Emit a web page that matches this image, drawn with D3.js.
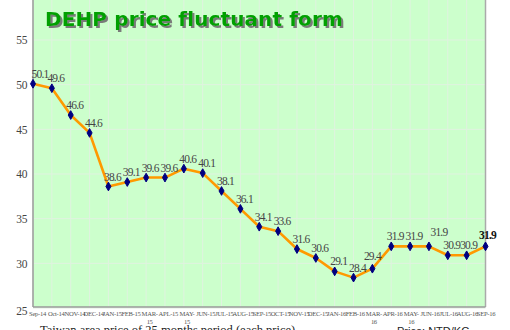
<!DOCTYPE html>
<html><head><meta charset="utf-8">
<script src="https://cdn.jsdelivr.net/npm/d3@7"></script>
<style>
html,body{margin:0;padding:0;background:#fff;overflow:hidden}
svg{display:block}
.serif{font-family:"Liberation Serif","Times New Roman",serif}
</style></head>
<body>
<svg id="chart" width="510" height="330"></svg>
<script>
const months = ["Sep-14","Oct-14","NOV-14","DEC-14","JAN-15","FEB-15","MAR-15","APL-15","MAY-15","JUN-15","JUL-15","AUG-15","SEP-15","OCT-15","NOV-15","DEC-15","JAN-16","FEB-16","MAR-16","APR-16","MAY-16","JUN-16","JUL-16","AUG-16","SEP-16"];
const prices = [50.1,49.6,46.6,44.6,38.6,39.1,39.6,39.6,40.6,40.1,38.1,36.1,34.1,33.6,31.6,30.6,29.1,28.4,29.4,31.9,31.9,31.9,30.9,30.9,31.9];
const yTicks = [25,30,35,40,45,50,55];
const titleText = "DEHP price fluctuant form";
const footText = "Taiwan area price of 25 months period (each price)";
const unitText = "Price: NTD/KG";

const svg = d3.select("#chart");
const defs = svg.append("defs");
const f = defs.append("filter").attr("id", "shadow").attr("x", "-5%").attr("y", "-20%").attr("width", "115%").attr("height", "150%");
f.append("feDropShadow").attr("dx", 2).attr("dy", 2).attr("stdDeviation", 0.6)
  .attr("flood-color", "#7a7a7a").attr("flood-opacity", 1);

const L = 33, R = 485.5, B = 307;
const x = d3.scaleLinear().domain([0, months.length - 1]).range([L, R]);
const xl = d3.scaleLinear().domain([0, months.length - 1]).range([37.5, 486]);
const y = d3.scaleLinear().domain([25, 55]).range([308, 40]);

// plot background
svg.append("rect").attr("x", L).attr("y", 0).attr("width", R - L).attr("height", B)
  .attr("fill", "#ccffcc");

// grid
const g = svg.append("g");
g.selectAll("line.v").data(months).join("line")
  .attr("x1", (d, i) => x(i)).attr("x2", (d, i) => x(i))
  .attr("y1", 0).attr("y2", B)
  .attr("stroke", "#e0f2e0").attr("stroke-width", 1);
g.selectAll("line.h").data(yTicks.concat([60])).join("line")
  .attr("x1", L).attr("x2", R)
  .attr("y1", d => y(d)).attr("y2", d => y(d))
  .attr("stroke", "#e0f2e0").attr("stroke-width", 1);

// borders
svg.append("line").attr("x1", L).attr("x2", L).attr("y1", 0).attr("y2", B).attr("stroke", "#9a9a9a").attr("stroke-width", 1.5);
svg.append("line").attr("x1", R).attr("x2", R).attr("y1", 0).attr("y2", B).attr("stroke", "#aaaaaa").attr("stroke-width", 1.5);
svg.append("line").attr("x1", L).attr("x2", R).attr("y1", B).attr("y2", B).attr("stroke", "#9a9a9a").attr("stroke-width", 1.5);

// y axis labels
const yAxis = d3.axisLeft(y).tickValues(yTicks).tickSize(0).tickPadding(6);
const ya = svg.append("g").attr("transform", `translate(${L},0)`).call(yAxis)
  .attr("font-family", null).attr("font-size", null).attr("class", "serif");
ya.select(".domain").remove();
ya.selectAll("text").attr("font-size", 11.5)
  .attr("letter-spacing", -0.4).attr("fill", "#444");
ya.selectAll(".tick").filter(d => d === 25).select("text").attr("dy", "0.6em");

// x labels
const xg = svg.append("g").attr("class", "serif");
months.forEach((m, i) => {
  const wrap = /^(MAR|MAY)/.test(m);
  const t = xg.append("text").attr("x", xl(i)).attr("y", 316)
    .attr("text-anchor", "middle")
    .attr("font-size", 6.6).attr("letter-spacing", -0.3).attr("fill", "#555");
  if (wrap) {
    const parts = m.split("-");
    t.append("tspan").attr("x", xl(i)).text(parts[0] + "-");
    t.append("tspan").attr("x", xl(i)).attr("dy", 7.5).text(parts[1]);
  } else t.text(m);
});

// line
const line = d3.line().x((d, i) => x(i)).y(d => y(d));
svg.append("path").datum(prices).attr("d", line).attr("fill", "none")
  .attr("stroke", "#ff9900").attr("stroke-width", 2.6).attr("stroke-linejoin", "round");

// markers
svg.selectAll("path.mk").data(prices).join("path")
  .attr("transform", (d, i) => `translate(${x(i)},${y(d)})`)
  .attr("d", d3.symbol().type(d3.symbolDiamond).size(22))
  .attr("fill", "#000080").attr("stroke", "#000080").attr("stroke-width", 1).attr("stroke-linejoin", "round");

// data labels
const nudge = {0: [3, 0], 18: [-4, -3], 21: [6, -4], 22: [0, 0], 23: [-2, 0], 24: [-2, -1]};
svg.append("g").attr("class", "serif").selectAll("text").data(prices).join("text")
  .attr("x", (d, i) => x(i) + 4 + (nudge[i] ? nudge[i][0] : 0))
  .attr("y", (d, i) => y(d) - 6 + (nudge[i] ? nudge[i][1] : 0))
  .attr("text-anchor", "middle")
  .attr("font-size", 11.5).attr("letter-spacing", -0.8)
  .attr("font-weight", (d, i) => i === 24 ? "bold" : "normal")
  .attr("fill", (d, i) => i === 24 ? "#111" : "#444")
  .text(d => d.toFixed(1));

// title with shadow
const tfont = 20;
const tt = svg.append("text").attr("x", 45).attr("y", 26).attr("font-family", "DejaVu Sans")
  .attr("font-weight", "bold").attr("font-size", tfont).attr("fill", "#00a000")
  .attr("filter", "url(#shadow)").text(titleText);
const w = tt.node().getComputedTextLength();
const ls = Math.max(-0.6, (297 - w) / (titleText.length - 1));
tt.attr("letter-spacing", ls);

// footer texts
svg.append("text").attr("class", "serif").attr("x", 40).attr("y", 334)
  .attr("font-size", 12.5).attr("fill", "#222").text(footText);
svg.append("text").attr("x", 397).attr("y", 335).attr("font-family", "Liberation Sans")
  .attr("font-size", 11).attr("fill", "#222").text(unitText);
</script>
</body></html>
